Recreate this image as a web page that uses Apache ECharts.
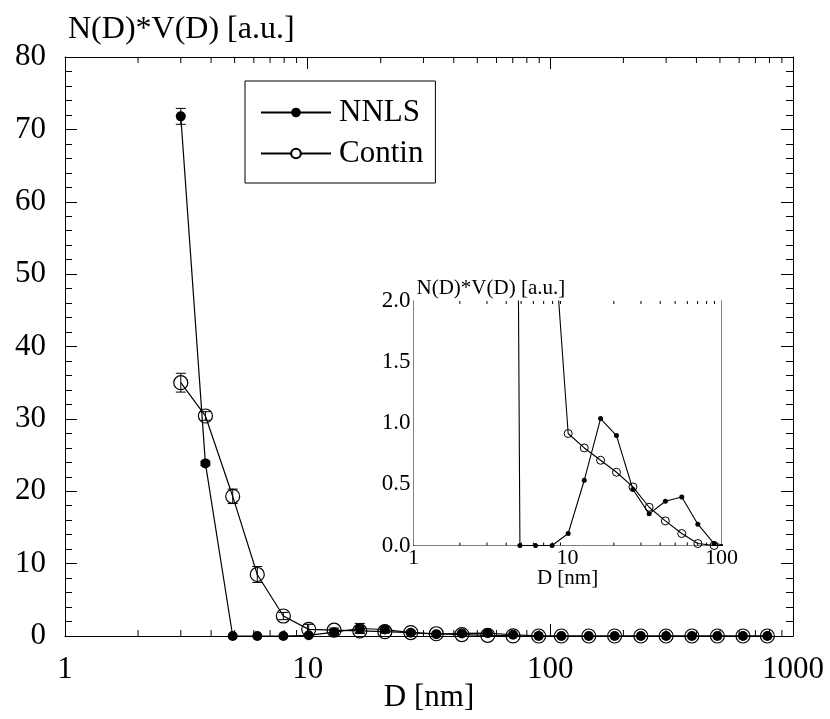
<!DOCTYPE html>
<html><head><meta charset="utf-8">
<script src="https://cdn.jsdelivr.net/npm/echarts@6/dist/echarts.min.js"></script>
<style>html,body{margin:0;padding:0;background:#fff}#c{width:830px;height:719px}</style>
</head><body><div id="c"></div>
<script>
// ---- data ----
const diameters = [3.0, 3.79, 4.91, 6.2, 7.94, 10.1, 12.85, 16.4, 20.8, 26.6, 33.9, 43.2, 55.2, 70.2, 89.5, 111, 144, 184, 236, 300, 383, 488, 622, 784];
const nnls      = [71.8, 23.85, 0, 0, 0, 0.098, 0.534, 1.038, 0.899, 0.458, 0.259, 0.362, 0.397, 0.174, 0.016, 0, 0, 0, 0, 0, 0, 0, 0, 0];
const nnlsErr   = [1.1, 0.3, 0, 0, 0, 0.1, 0.3, 0.7, 0.4, 0.2, 0.1, 0.1, 0.1, 0.1, 0, 0, 0, 0, 0, 0, 0, 0, 0, 0];
const contin    = [35.0, 30.4, 19.3, 8.5, 2.76, 0.916, 0.798, 0.697, 0.599, 0.479, 0.313, 0.201, 0.098, 0.016, 0, 0, 0, 0, 0, 0, 0, 0, 0, 0];
const continErr = [1.3, 0.6, 1.0, 1.1, 0.5, 0.7, 0.3, 0.2, 0.2, 0.2, 0.1, 0.1, 0.1, 0, 0, 0, 0, 0, 0, 0, 0, 0, 0, 0];
const mainMinorTicks  = [2, 3, 4, 5, 6, 7, 8, 9, 20, 30, 40, 50, 60, 70, 80, 90, 200, 300, 400, 500, 600, 700, 800, 900];
const insetMinorTicks = [2, 3, 4, 5, 6, 7, 8, 9, 20, 30, 40, 50, 60, 70, 80, 90];
const seriesNames = ['NNLS', 'Contin'];
const yTitle = 'N(D)*V(D) [a.u.]';
const xTitle = 'D [nm]';

const FONT = 'Liberation Serif';
const BLACK = '#000';

function pairs(xs, ys) { return xs.map((x, i) => [x, ys[i]]); }
function triples(xs, ys, es) { return xs.map((x, i) => [x, ys[i], es[i]]); }

function tickRenderer(yMin, yMax, len) {
  return function (params, api) {
    const x = api.value(0);
    const b = api.coord([x, yMin]);
    const t = api.coord([x, yMax]);
    return { type: 'group', children: [
      { type: 'line', shape: { x1: b[0], y1: b[1], x2: b[0], y2: b[1] - len }, style: { stroke: BLACK, lineWidth: 1 } },
      { type: 'line', shape: { x1: t[0], y1: t[1], x2: t[0], y2: t[1] + len }, style: { stroke: BLACK, lineWidth: 1 } }
    ]};
  };
}
function errRenderer(params, api) {
  const x = api.value(0), y = api.value(1), e = api.value(2);
  if (!e) return null;
  const hi = api.coord([x, y + e]), lo = api.coord([x, y - e]);
  const w = 5;
  const st = { stroke: BLACK, lineWidth: 1 };
  return { type: 'group', children: [
    { type: 'line', shape: { x1: hi[0], y1: hi[1], x2: lo[0], y2: lo[1] }, style: st },
    { type: 'line', shape: { x1: hi[0] - w, y1: hi[1], x2: hi[0] + w, y2: hi[1] }, style: st },
    { type: 'line', shape: { x1: lo[0] - w, y1: lo[1], x2: lo[0] + w, y2: lo[1] }, style: st }
  ]};
}

function logAxis(grid, pos, min, max, fs, margin, tickLen, showLabel, name, nameGap, nameFs) {
  return {
    type: 'log', logBase: 10, gridIndex: grid, position: pos, min: min, max: max, splitNumber: 3,
    axisLine: { show: true, onZero: false, lineStyle: { color: BLACK, width: 1 } },
    axisTick: { show: true, inside: true, length: tickLen, lineStyle: { color: BLACK, width: 1 } },
    minorTick: { show: false },
    splitLine: { show: false },
    axisLabel: { show: showLabel, fontFamily: FONT, fontSize: fs, color: BLACK, margin: margin,
      showMinLabel: true, showMaxLabel: true, formatter: v => String(Math.round(v)) },
    name: name || '', nameLocation: 'middle', nameGap: nameGap || 0, nameMoveOverlap: false,
    nameTextStyle: { fontFamily: FONT, fontSize: nameFs || fs, color: BLACK, verticalAlign: 'middle' }
  };
}
function valAxis(grid, pos, min, max, interval, fs, margin, tickLen, minorLen, showLabel, fmt, name, nameGap, nameFs) {
  return {
    type: 'value', gridIndex: grid, position: pos, min: min, max: max, interval: interval,
    axisLine: { show: true, onZero: false, lineStyle: { color: BLACK, width: 1 } },
    axisTick: { show: true, inside: true, length: tickLen, lineStyle: { color: BLACK, width: 1 } },
    minorTick: { show: true, splitNumber: 5, length: minorLen, lineStyle: { color: BLACK, width: 1 } },
    splitLine: { show: false }, minorSplitLine: { show: false },
    axisLabel: { show: showLabel, fontFamily: FONT, fontSize: fs, color: BLACK, margin: margin, formatter: fmt },
    name: name || '', nameLocation: 'end', nameGap: nameGap || 0, nameMoveOverlap: false,
    nameTextStyle: { fontFamily: FONT, fontSize: nameFs || fs, color: BLACK, align: 'left', verticalAlign: 'middle', padding: [0, 0, 0, 3] }
  };
}

const option = {
  animation: false,
  backgroundColor: '#fff',
  grid: [
    { left: 65, top: 57, width: 728, height: 579, containLabel: false, outerBoundsMode: 'none', show: false },
    { left: 413.5, top: 301, width: 308, height: 244.5, containLabel: false, outerBoundsMode: 'none', show: true, backgroundColor: '#fff', borderWidth: 0, z: 5 }
  ],
  legend: {
    data: [{ name: seriesNames[0] }, { name: seriesNames[1], itemStyle: { color: '#fff' } }],
    orient: 'vertical', left: 245, top: 81,
    itemWidth: 70, itemHeight: 12, itemGap: 10,
    padding: [16, 12, 14, 15],
    borderColor: BLACK, borderWidth: 1, backgroundColor: '#fff',
    selectedMode: false,
    textStyle: { fontFamily: FONT, fontSize: 31, color: BLACK, lineHeight: 31, padding: [0, 0, 0, 3] }
  },
  xAxis: [
    logAxis(0, 'bottom', 1, 1000, 31, 18, 12, true, xTitle, 62),
    logAxis(0, 'top', 1, 1000, 31, 14, 12, false),
    logAxis(1, 'bottom', 1, 100, 22, 2, 6, true, xTitle, 33, 21),
    logAxis(1, 'top', 1, 100, 22, 2, 6, false)
  ],
  yAxis: [
    valAxis(0, 'left', 0, 80, 10, 31, 19, 12, 7, true, null, yTitle, 27, 32),
    valAxis(0, 'right', 0, 80, 10, 31, 19, 12, 7, false),
    valAxis(1, 'left', 0, 2, 0.5, 23, 3, 6, 3, true, v => v.toFixed(1), yTitle, 13, 21),
    valAxis(1, 'right', 0, 2, 0.5, 23, 3, 6, 3, false)
  ],
  series: [
    { name: seriesNames[0], type: 'line', xAxisIndex: 0, yAxisIndex: 0, data: pairs(diameters, nnls),
      symbol: 'circle', symbolSize: 10, lineStyle: { color: BLACK, width: 1.2 },
      itemStyle: { color: BLACK }, z: 4, silent: true },
    { name: seriesNames[1], type: 'line', xAxisIndex: 0, yAxisIndex: 0, data: pairs(diameters, contin),
      symbol: 'circle', symbolSize: 14, lineStyle: { color: BLACK, width: 1.2 },
      itemStyle: { color: 'transparent', borderColor: BLACK, borderWidth: 1.2 }, z: 3, silent: true },
    { name: 'nnls-err', type: 'custom', xAxisIndex: 0, yAxisIndex: 0, data: triples(diameters, nnls, nnlsErr), renderItem: errRenderer, silent: true, z: 3 },
    { name: 'contin-err', type: 'custom', xAxisIndex: 0, yAxisIndex: 0, data: triples(diameters, contin, continErr), renderItem: errRenderer, silent: true, z: 3 },
    { name: 'main-minor', type: 'custom', xAxisIndex: 0, yAxisIndex: 0, data: mainMinorTicks.map(t => [t, 0]), renderItem: tickRenderer(0, 80, 6), silent: true, z: 3 },
    { name: 'NNLS inset', type: 'line', xAxisIndex: 2, yAxisIndex: 2, data: pairs(diameters, nnls),
      symbol: 'circle', symbolSize: 5, lineStyle: { color: BLACK, width: 1.1 }, clip: true,
      itemStyle: { color: BLACK }, z: 7, silent: true },
    { name: 'Contin inset', type: 'line', xAxisIndex: 2, yAxisIndex: 2, data: pairs(diameters, contin),
      symbol: 'circle', symbolSize: 8, lineStyle: { color: BLACK, width: 1.1 }, clip: true,
      itemStyle: { color: 'transparent', borderColor: BLACK, borderWidth: 1 }, z: 7, silent: true },
    { name: 'inset-minor', type: 'custom', xAxisIndex: 2, yAxisIndex: 2, data: insetMinorTicks.map(t => [t, 0]), renderItem: tickRenderer(0, 2, 3), silent: true, z: 7 }
  ]
};
const chart = echarts.init(document.getElementById('c'), null, { renderer: 'canvas' });
chart.setOption(option);
</script></body></html>
